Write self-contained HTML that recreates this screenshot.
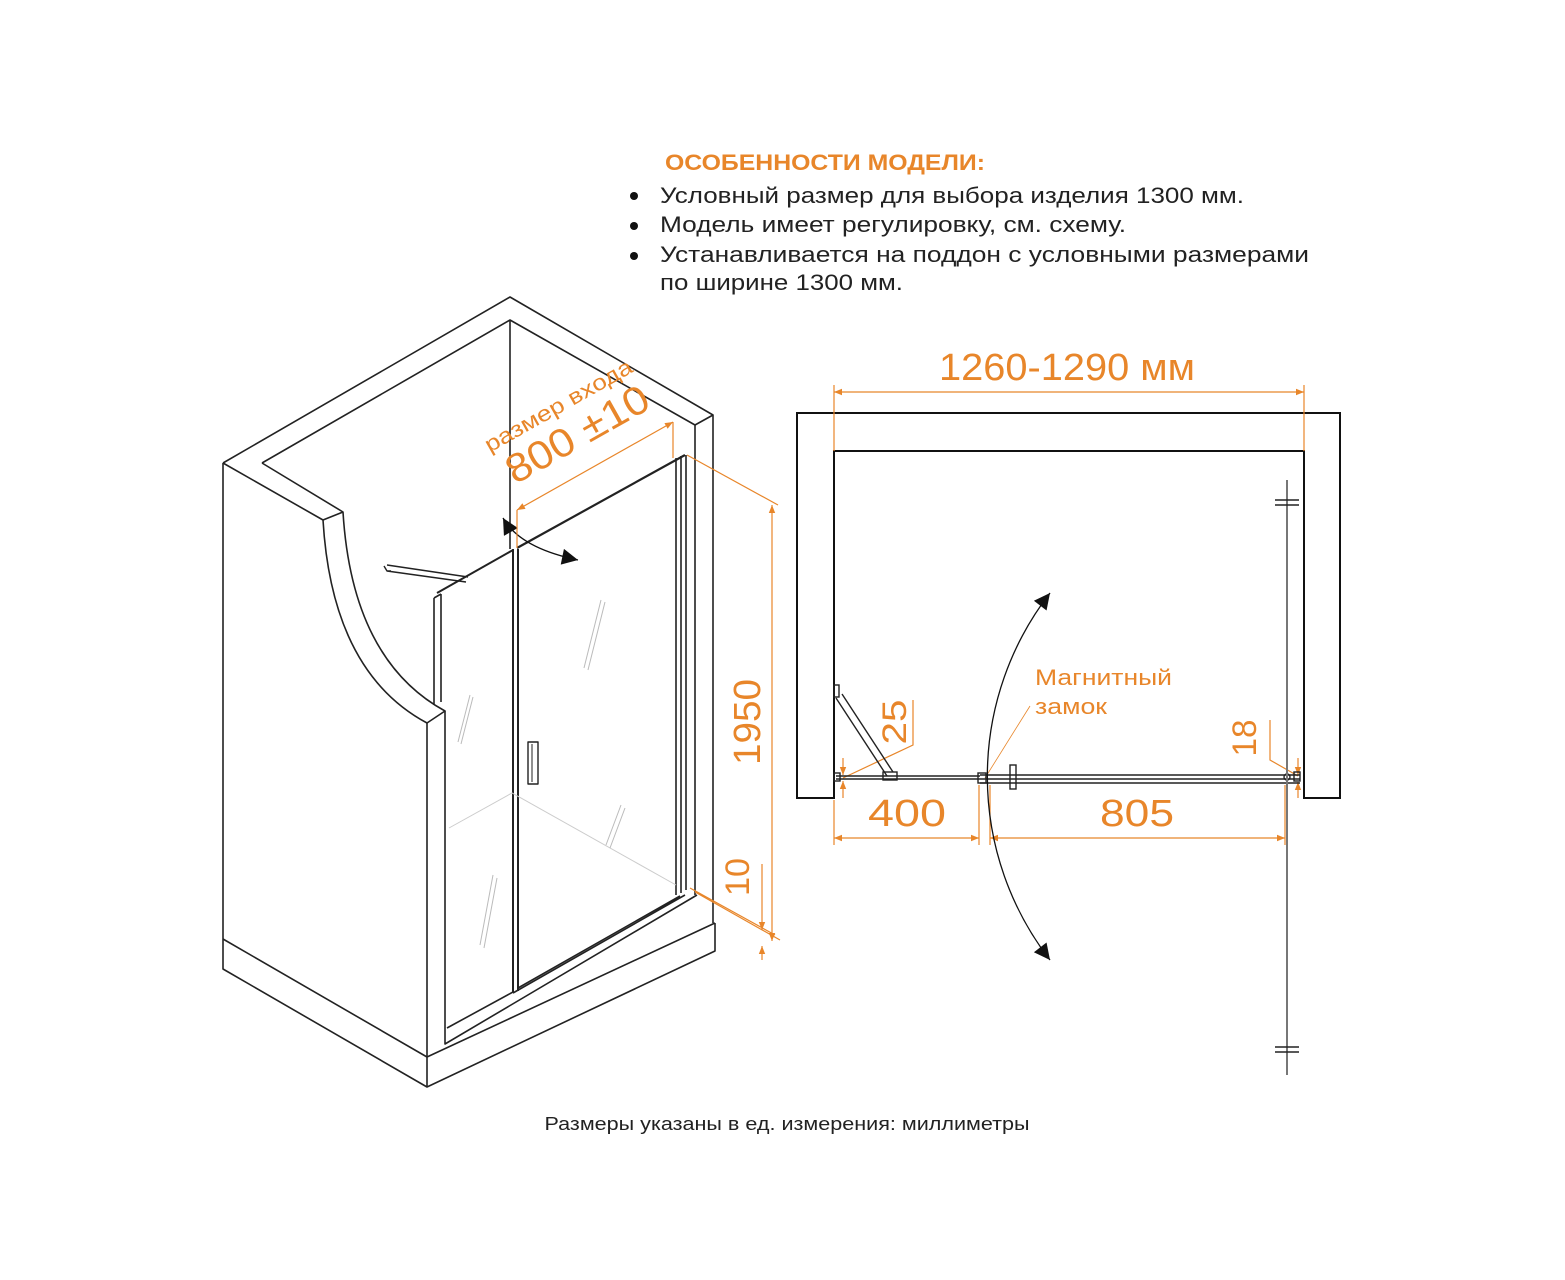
<!DOCTYPE html>
<html><head><meta charset="utf-8"><style>
html,body{margin:0;padding:0;background:#fff}
svg{display:block}
text{font-family:"Liberation Sans","DejaVu Sans",sans-serif}
</style></head><body>
<svg width="1565" height="1280" viewBox="0 0 1565 1280" xmlns="http://www.w3.org/2000/svg">
<defs>
<marker id="oa" viewBox="0 0 10 10" refX="10" refY="5" markerWidth="12" markerHeight="8" orient="auto-start-reverse" markerUnits="userSpaceOnUse"><path d="M0,1 L10,5 L0,9 z" fill="#E8862A"/></marker>
<marker id="ba" viewBox="0 0 10 10" refX="10" refY="5" markerWidth="22" markerHeight="16" orient="auto-start-reverse" markerUnits="userSpaceOnUse"><path d="M0,0 L10,5 L0,10 z" fill="#111"/></marker>
</defs>
<!-- header -->
<text x="665" y="170" font-size="22" font-weight="bold" fill="#E8862A" textLength="320" lengthAdjust="spacingAndGlyphs">ОСОБЕННОСТИ МОДЕЛИ:</text>
<g font-size="22" fill="#222">
<circle cx="634" cy="196" r="4" fill="#111"/><text x="660" y="203" textLength="584" lengthAdjust="spacingAndGlyphs">Условный размер для выбора изделия 1300 мм.</text>
<circle cx="634" cy="226" r="4" fill="#111"/><text x="660" y="232" textLength="466" lengthAdjust="spacingAndGlyphs">Модель имеет регулировку, см. схему.</text>
<circle cx="634" cy="256" r="4" fill="#111"/><text x="660" y="262" textLength="649" lengthAdjust="spacingAndGlyphs">Устанавливается на поддон с условными размерами</text>
<text x="660" y="290" textLength="243" lengthAdjust="spacingAndGlyphs">по ширине 1300 мм.</text>
</g>

<!-- isometric -->
<g fill="none" stroke="#222" stroke-width="1.6" stroke-linejoin="round">
<path d="M223,463 L510,297 L713,415 L713,923"/>
<path d="M262,463 L510,320 L695,425 L695,895"/>
<path d="M695,425 L713,415"/>
<path d="M510,320 L510,549"/>
<path d="M223,463 L223,969 L427,1087 L715,951 L715,923"/>
<path d="M223,939 L427,1057 L715,923"/>
<path d="M223,463 L323,520 Q332,672 427,723 L445,711 Q352,660 343,512 L262,463"/>
<path d="M323,520 L343,512"/>
<path d="M427,723 L427,1087"/>
<path d="M445,711 L445,1044 L697,895"/>
<path d="M517,548 L685,455" stroke-width="2.2"/>
<path d="M437,593 L513,550" stroke-width="2"/>
<path d="M513,549 L513,993 M518,549 L518,991" stroke-width="2"/>
<path d="M513,993 L685,895 M518,988 L680,896" stroke-width="1.6"/>
<path d="M676,458 L676,895 M681,456 L681,893 M686,455 L686,890"/>
<path d="M434,598 L434,705 M441,594 L441,702 M434,598 L441,594"/>
<path d="M447,1028 L513,992"/>
<path d="M387,565 L468,577 M387,571 L466,582 M384,566 L387,571 L391,571" stroke-width="1.4"/>
<rect x="528" y="742" width="10" height="42" stroke-width="1.4"/>
<path d="M532,744 L532,782" stroke-width="1"/>
</g>
<path d="M449,828 L512,793 L676,885" fill="none" stroke="#ccc" stroke-width="1"/>
<g stroke="#bbb" stroke-width="1">
<path d="M458,742 L470,695 M461,744 L473,697"/>
<path d="M480,945 L493,875 M484,948 L497,878"/>
<path d="M584,668 L601,600 M588,670 L605,602"/>
<path d="M606,845 L621,805 M610,848 L625,808"/>
</g>
<path d="M503,518 Q520,548 578,560" fill="none" stroke="#111" stroke-width="1.3" marker-start="url(#ba)" marker-end="url(#ba)"/>
<g stroke="#E8862A" stroke-width="1.2" fill="none">
<path d="M517,510 L517,548 M673,422 L673,458"/>
<path d="M517,510 L673,422" marker-start="url(#oa)" marker-end="url(#oa)"/>
<path d="M687,455 L778,505"/>
<path d="M772,505 L772,941" marker-start="url(#oa)" marker-end="url(#oa)"/>
<path d="M690,888 L775,935 M695,892 L780,940"/>
<path d="M762,864 L762,930" marker-end="url(#oa)"/>
<path d="M762,960 L762,946" marker-end="url(#oa)"/>
</g>
<g fill="#E8862A">
<text transform="translate(562,412) rotate(-29.4)" font-size="22" text-anchor="middle" textLength="166" lengthAdjust="spacingAndGlyphs">размер входа</text>
<text transform="translate(584,446) rotate(-29.4)" font-size="40" text-anchor="middle" textLength="158" lengthAdjust="spacingAndGlyphs">800 ±10</text>
<text transform="translate(760,722) rotate(-90)" font-size="38" text-anchor="middle" textLength="86" lengthAdjust="spacingAndGlyphs">1950</text>
<text transform="translate(749,877) rotate(-90)" font-size="34" text-anchor="middle" textLength="38" lengthAdjust="spacingAndGlyphs">10</text>
</g>

<!-- plan -->
<path d="M797,413 L1340,413 L1340,798 L1304,798 L1304,451 L834,451 L834,798 L797,798 Z" fill="none" stroke="#111" stroke-width="2"/>
<g stroke="#E8862A" stroke-width="1.2" fill="none">
<path d="M834,385 L834,451 M1304,385 L1304,451"/>
<path d="M834,392 L1304,392" marker-start="url(#oa)" marker-end="url(#oa)"/>
<path d="M834,800 L834,845 M979,785 L979,845 M990,785 L990,845 M1285,785 L1285,845"/>
<path d="M834,838 L979,838" marker-start="url(#oa)" marker-end="url(#oa)"/>
<path d="M990,838 L1285,838" marker-start="url(#oa)" marker-end="url(#oa)"/>
<path d="M913,700 L913,745 L843,778"/>
<path d="M843,758 L843,775" marker-end="url(#oa)"/>
<path d="M843,798 L843,781" marker-end="url(#oa)"/>
<path d="M1270,720 L1270,760 L1298,776"/>
<path d="M1298,758 L1298,775" marker-end="url(#oa)"/>
<path d="M1298,798 L1298,782" marker-end="url(#oa)"/>
<path d="M1030,706 L985,778" stroke-width="0.8"/>
</g>
<g fill="none" stroke="#222" stroke-width="1.4">
<path d="M836,776 L980,776 M836,779 L980,779"/>
<rect x="834" y="773" width="6" height="8"/>
<path d="M980,775 L1300,775 M980,779 L1300,779 M980,783 L1300,783"/>
<rect x="978" y="773" width="8" height="10"/>
<rect x="1010" y="765" width="6" height="24"/>
<path d="M836,698 L887,776 M842,694 L893,772"/>
<rect x="834" y="685" width="5" height="12"/>
<rect x="883" y="772" width="14" height="8"/>
<circle cx="1287" cy="777" r="3"/>
<rect x="1294" y="772" width="6" height="9"/>
<path d="M1287,480 L1287,1075" stroke="#777" stroke-width="2"/>
<path d="M1275,500 L1299,500 M1275,505 L1299,505 M1275,1047 L1299,1047 M1275,1052 L1299,1052"/>
</g>
<path d="M1050,593 A300,300 0 0 0 1050,960" fill="none" stroke="#111" stroke-width="1.3" marker-start="url(#ba)" marker-end="url(#ba)"/>
<g fill="#E8862A">
<text x="1067" y="380" font-size="38" text-anchor="middle" textLength="256" lengthAdjust="spacingAndGlyphs">1260-1290 мм</text>
<text x="907" y="826" font-size="38" text-anchor="middle" textLength="78" lengthAdjust="spacingAndGlyphs">400</text>
<text x="1137" y="826" font-size="38" text-anchor="middle" textLength="74" lengthAdjust="spacingAndGlyphs">805</text>
<text transform="translate(906,722) rotate(-90)" font-size="34" text-anchor="middle" textLength="45" lengthAdjust="spacingAndGlyphs">25</text>
<text transform="translate(1256,738) rotate(-90)" font-size="34" text-anchor="middle" textLength="37" lengthAdjust="spacingAndGlyphs">18</text>
<text x="1035" y="685" font-size="22" textLength="137" lengthAdjust="spacingAndGlyphs">Магнитный</text>
<text x="1035" y="714" font-size="22" textLength="72" lengthAdjust="spacingAndGlyphs">замок</text>
</g>
<text x="787" y="1130" font-size="18" fill="#222" text-anchor="middle" textLength="485" lengthAdjust="spacingAndGlyphs">Размеры указаны в ед. измерения: миллиметры</text>
</svg>
</body></html>
